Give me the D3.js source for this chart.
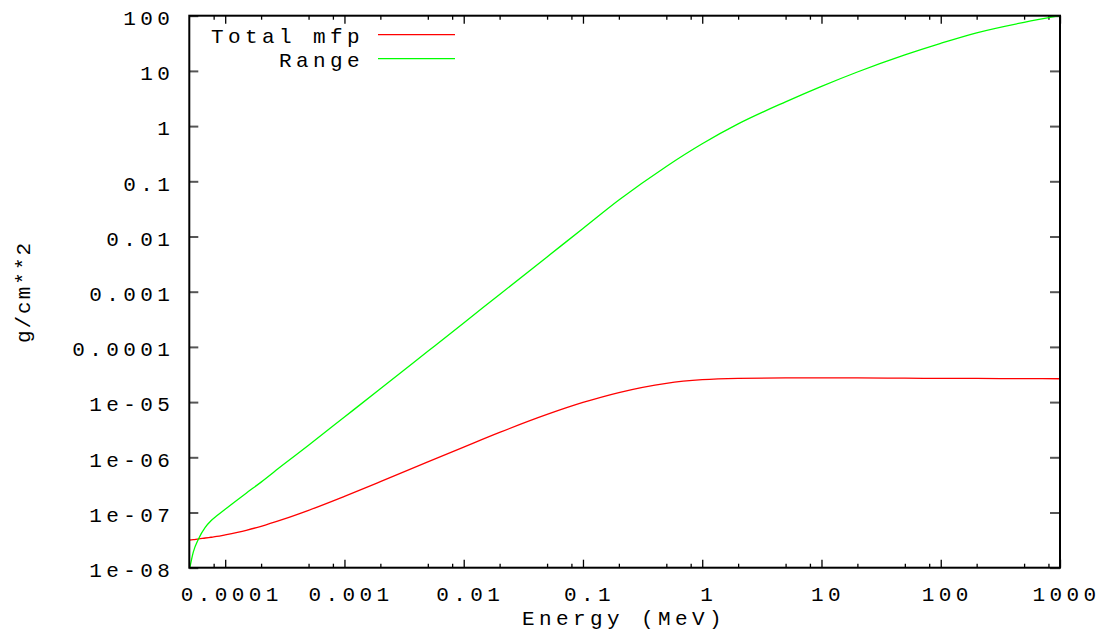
<!DOCTYPE html>
<meta charset="utf-8">
<script src="https://d3js.org/d3.v7.min.js"></script>
<style>
  body { margin: 0; background: #fff; }
  text { font-family: "Liberation Mono", "DejaVu Sans Mono", monospace; font-size: 21px; fill: #000; }
</style>
<div id="chart"></div>
<script>
// energies (MeV) and the two curves (g/cm**2)
var energy = [5e-5, 5.4e-5, 6e-5, 6.8e-5, 7.6e-5, 8.5e-5, 1e-4, 1.5e-4, 2e-4, 3e-4, 5e-4,
              1e-3, 2e-3, 5e-3, 1e-2, 2e-2, 5e-2, 0.1, 0.2, 0.5, 1,
              2, 5, 10, 20, 50, 100, 200, 500, 1000];
var totalMfp = [3.16e-8, 3.23e-8, 3.32e-8, 3.45e-8, 3.56e-8, 3.68e-8, 3.94e-8, 4.76e-8, 5.62e-8, 7.41e-8, 1.094e-7,
                1.96e-7, 3.61e-7, 8.24e-7, 1.53e-6, 2.82e-6, 5.97e-6, 9.84e-6, 1.49e-5, 2.19e-5, 2.55e-5,
                2.70e-5, 2.75e-5, 2.75e-5, 2.74e-5, 2.71e-5, 2.69e-5, 2.68e-5, 2.66e-5, 2.65e-5];
var csdaRange = [8.9e-9, 1.91e-8, 3.39e-8, 5.37e-8, 7.08e-8, 8.71e-8, 1.148e-7, 2.24e-7, 3.55e-7, 7.08e-7, 1.66e-6,
                 5.37e-6, 1.74e-5, 8.32e-5, 2.72e-4, 8.91e-4, 4.27e-3, 0.01396, 0.0457, 0.186, 0.479,
                 1.096, 2.75, 5.25, 9.55, 19.5, 31.6, 49.0, 75.9, 100];

var xMajor = [1e-4, 1e-3, 1e-2, 0.1, 1, 10, 100, 1000];
var xLabels = ["0.0001", "0.001", "0.01", "0.1", "1", "10", "100", "1000"];
var xMinor = [8e-5, 2e-4, 5e-4, 8e-4, 2e-3, 5e-3, 8e-3, 2e-2, 5e-2, 8e-2,
              0.2, 0.5, 0.8, 2, 5, 8, 20, 50, 80, 200, 500, 800];
var yMajor = [1e-8, 1e-7, 1e-6, 1e-5, 1e-4, 1e-3, 1e-2, 0.1, 1, 10, 100];
var yLabels = ["1e-08", "1e-07", "1e-06", "1e-05", "0.0001", "0.001", "0.01", "0.1", "1", "10", "100"];

var series = [
  {name: "Total mfp", values: totalMfp, color: "#ff0000"},
  {name: "Range", values: csdaRange, color: "#00ff00"}
];

var W = 1109, H = 643;
var plotL = 189.3, plotR = 1060, plotT = 15.7, plotB = 567.7;

var svg = d3.select("#chart").append("svg")
  .attr("width", W)
  .attr("height", H);

var x = d3.scaleLog().domain([5e-5, 1000]).range([plotL, plotR]);
var y = d3.scaleLog().domain([1e-8, 100]).range([plotB, plotT]);

// x axis, bottom: major with labels, minor without
var xAxis = svg.append("g")
  .attr("transform", "translate(0," + plotB + ")")
  .call(d3.axisBottom(x).tickValues(xMajor).tickSize(-8).tickPadding(18)
    .tickFormat(function(d, i) { return xLabels[i]; }));
xAxis.selectAll("text").attr("dx", 6).attr("letter-spacing", 4.4);

svg.append("g")
  .attr("transform", "translate(0," + plotB + ")")
  .call(d3.axisBottom(x).tickValues(xMinor).tickSize(-4).tickFormat(""));

// mirrored ticks on top
svg.append("g")
  .attr("transform", "translate(0," + plotT + ")")
  .call(d3.axisTop(x).tickValues(xMajor).tickSize(-8).tickFormat(""));
svg.append("g")
  .attr("transform", "translate(0," + plotT + ")")
  .call(d3.axisTop(x).tickValues(xMinor).tickSize(-4).tickFormat(""));

// y axis left and right
var yAxis = svg.append("g")
  .attr("class", "yaxis")
  .attr("transform", "translate(" + plotL + ",0)")
  .call(d3.axisLeft(y).tickValues(yMajor).tickSize(-9).tickPadding(15)
    .tickFormat(function(d, i) { return yLabels[i]; }));
yAxis.selectAll("text").attr("letter-spacing", 4.4).attr("dy", "0.42em");

svg.append("g")
  .attr("class", "yaxis")
  .attr("transform", "translate(" + plotR + ",0)")
  .call(d3.axisRight(y).tickValues(yMajor).tickSize(-10).tickFormat(""));

svg.selectAll(".domain").remove();
svg.selectAll(".tick line").attr("stroke", "#000").attr("stroke-width", 1.3);
svg.selectAll(".yaxis .tick line").attr("stroke", "#555").attr("stroke-width", 2);

// curves
var line = d3.line()
  .x(function(d, i) { return x(energy[i]); })
  .y(function(d) { return y(d); })
  .curve(d3.curveMonotoneX);

svg.append("clipPath").attr("id", "clip")
  .append("rect")
  .attr("x", plotL).attr("y", plotT)
  .attr("width", plotR - plotL).attr("height", plotB - plotT);

svg.selectAll(".curve")
  .data(series)
  .enter()
  .append("path")
  .attr("class", "curve")
  .attr("clip-path", "url(#clip)")
  .attr("d", function(s) { return line(s.values); })
  .attr("fill", "none")
  .attr("stroke", function(s) { return s.color; })
  .attr("stroke-width", 1.3);

// frame
svg.append("rect")
  .attr("x", plotL).attr("y", plotT)
  .attr("width", plotR - plotL).attr("height", plotB - plotT)
  .attr("fill", "none")
  .attr("stroke", "#000")
  .attr("stroke-width", 2);

// legend
var legend = svg.selectAll(".legend")
  .data(series)
  .enter()
  .append("g")
  .attr("class", "legend")
  .attr("transform", function(d, i) { return "translate(0," + (34.7 + i * 24) + ")"; });

legend.append("text")
  .attr("x", 364)
  .attr("y", 8)
  .attr("text-anchor", "end")
  .attr("letter-spacing", 4.4)
  .text(function(d) { return d.name; });

legend.append("line")
  .attr("x1", 378).attr("x2", 455)
  .attr("y1", 0).attr("y2", 0)
  .attr("stroke", function(d) { return d.color; })
  .attr("stroke-width", 1.2);

// axis titles
svg.append("text")
  .attr("x", 624)
  .attr("y", 625)
  .attr("text-anchor", "middle")
  .attr("letter-spacing", 4.4)
  .text("Energy (MeV)");

svg.append("text")
  .attr("transform", "translate(30,292) rotate(-90)")
  .attr("text-anchor", "middle")
  .attr("letter-spacing", 2)
  .text("g/cm**2");
</script>
